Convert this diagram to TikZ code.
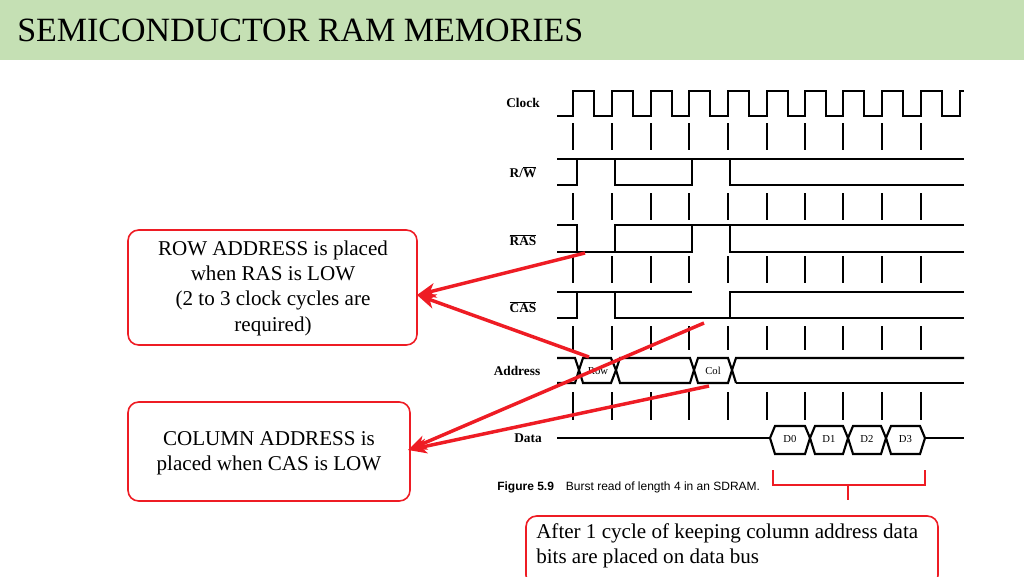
\documentclass[tikz,border=0pt]{standalone}
\usepackage{fontspec}
\setmainfont{Liberation Serif}
\newfontfamily\sansf{Liberation Sans}
\usetikzlibrary{arrows.meta}
\definecolor{hdr}{HTML}{C5E0B4}
\definecolor{rd}{HTML}{EE1C24}
\begin{document}
\begin{tikzpicture}[x=0.75pt,y=-0.75pt,
  sig/.style={line width=1.6pt,line join=miter},
  tick/.style={line width=1.1pt},
  lbl/.style={font=\bfseries\fontsize{10}{12}\selectfont,inner sep=0pt},
  box/.style={draw=rd,line width=1.2pt,rounded corners=8pt,fill=white},
  btxt/.style={font=\fontsize{15.8}{19}\selectfont,align=center,inner sep=0pt},
  arr/.style={draw=rd,line width=2.6pt,-{Stealth[length=14pt,width=11pt,inset=4pt]}}]
\useasboundingbox (0,0) rectangle (1024,576);
\fill[hdr] (0,0) rectangle (1024,60);
\node[anchor=west,font=\fontsize{25.5}{30}\selectfont,inner sep=0pt] (title) at (17,30) {SEMICONDUCTOR RAM MEMORIES};
% labels
\node[lbl] (lclk) at (523,103) {Clock};
\node[lbl] (lrw) at (523,172) {R/$\overline{\mbox{W}}$};
\node[lbl] (lras) at (523,240) {$\overline{\mbox{RAS}}$};
\node[lbl] (lcas) at (523,307) {$\overline{\mbox{CAS}}$};
\node[lbl] (ladr) at (517,371) {Address};
\node[lbl] (ldat) at (528,438) {Data};
% clock
\draw[sig] (557,116)
  \foreach \r in {573,612,651,689,728,767,805,843,882,921} {
    -- (\r,116) -- (\r,91) -- ({\r+21},91) -- ({\r+21},116) }
  -- (960,116) -- (960,91) -- (964,91);
% ticks
\foreach \r in {573,612,651,689,728,767,805,843,882,921}
  \foreach \a/\b in {123/150,193/220,256/283,326/350,392/420}
    \draw[tick] (\r,\a) -- (\r,\b);
% R/W : x high x high x
\draw[sig] (557,159) -- (964,159);
\draw[sig] (557,185) -- (577,185) -- (577,159);
\draw[sig] (615,159) -- (615,185) -- (692,185) -- (692,159);
\draw[sig] (730,159) -- (730,185) -- (964,185);
% RAS : x low x high x
\draw[sig] (557,225) -- (577,225) -- (577,252) -- (615,252);
\draw[sig] (557,252) -- (577,252);
\draw[sig] (615,252) -- (615,225) -- (964,225);
\draw[sig] (615,252) -- (692,252) -- (692,225);
\draw[sig] (730,225) -- (730,252) -- (964,252);
% CAS : x high x low x
\draw[sig] (557,292) -- (692,292);
\draw[sig] (557,318) -- (577,318) -- (577,292);
\draw[sig] (615,292) -- (615,318) -- (730,318) -- (730,292) -- (964,292);
\draw[sig] (730,318) -- (964,318);
% Address
\draw[sig] (557,358) -- (575,358) -- (579,370) -- (575,383) -- (557,383);
\draw[sig] (579,370) -- (583,358) -- (611,358) -- (616,370) -- (611,383) -- (583,383) -- cycle;
\node[font=\fontsize{8}{9}\selectfont,inner sep=0pt] (row) at (598,371) {Row};
\draw[sig] (616,370) -- (620,358) -- (690,358) -- (694,370) -- (690,383) -- (620,383) -- cycle;
\draw[sig] (694,370) -- (698,358) -- (728,358) -- (732,370) -- (728,383) -- (698,383) -- cycle;
\node[font=\fontsize{8}{9}\selectfont,inner sep=0pt] (col) at (713,371) {Col};
\draw[sig] (732,370) -- (736,358) -- (964,358);
\draw[sig] (736,383) -- (732,370);
\draw[sig] (736,383) -- (964,383);
% Data
\draw[sig] (557,438) -- (770,438);
\foreach \s/\e/\t in {770/810/D0,810/848/D1,848/886/D2,886/925/D3} {
  \draw[sig] (\s,438) -- ({\s+5},426) -- ({\e-5},426) -- (\e,438) -- ({\e-5},454) -- ({\s+5},454) -- cycle;
  \node[font=\fontsize{8}{9}\selectfont,inner sep=0pt] at ({(\s+\e)/2},439) {\t};
}
\draw[sig] (925,438) -- (964,438);
\node[anchor=west,font=\sansf\fontsize{9}{11}\selectfont,inner sep=0pt] (cap) at (497,487)
  {\textbf{Figure 5.9}\quad Burst read of length 4 in an SDRAM.};
% brace
\draw[rd,line width=2pt] (773,470) -- (773,485) -- (925,485) -- (925,470);
\draw[rd,line width=2pt] (848,485) -- (848,500);
% boxes
\node[box,minimum width=289*0.75pt,minimum height=115*0.75pt] (b1) at (272.5,287.5) {};
\node[btxt] at (273,288) {ROW ADDRESS is placed\\when RAS is LOW\\(2 to 3 clock cycles are\\required)};
\node[box,minimum width=282*0.75pt,minimum height=99*0.75pt] (b2) at (269,451.5) {};
\node[btxt] at (269,453) {COLUMN ADDRESS is\\placed when CAS is LOW};
\node[box,minimum width=412*0.75pt,minimum height=70*0.75pt] (b3) at (732,551) {};
\node[btxt,align=left,anchor=north west] at (536,523) {After 1 cycle of keeping column address data\\bits are placed on data bus};
% arrows
\coordinate (p1) at (585,253);
\coordinate (p2) at (589,357);
\coordinate (p3) at (704,323);
\coordinate (p4) at (709,386);
\coordinate (t1) at (417,295);
\coordinate (t2) at (408,450);
\draw[arr] (p1) -- (t1);
\draw[arr] (p2) -- (t1);
\draw[arr] (p3) -- (t2);
\draw[arr] (p4) -- (t2);
\end{tikzpicture}
\end{document}
